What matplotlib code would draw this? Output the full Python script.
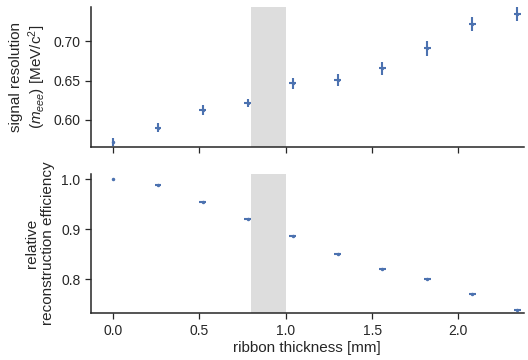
import numpy as np
import matplotlib
matplotlib.use("Agg")
import matplotlib.pyplot as plt

plt.rcParams['font.family'] = ['Liberation Sans', 'DejaVu Sans']
plt.rcParams['mathtext.fontset'] = 'custom'
plt.rcParams['mathtext.rm'] = 'Liberation Sans'
plt.rcParams['mathtext.it'] = 'Liberation Sans:italic'

thickness = [0.0, 0.26, 0.52, 0.78, 1.04, 1.30, 1.56, 1.82, 2.08, 2.34]
thickness_err = [0.0, 0.02, 0.02, 0.02, 0.02, 0.02, 0.02, 0.02, 0.02, 0.02]
resolution = [0.5725, 0.590, 0.6127, 0.622, 0.6465, 0.6506, 0.6654, 0.6907, 0.7224, 0.7342]
resolution_err = [0.005, 0.0057, 0.0063, 0.005, 0.007, 0.0076, 0.0084, 0.0095, 0.0089, 0.0086]
efficiency = [1.000, 0.989, 0.9545, 0.9204, 0.886, 0.850, 0.8204, 0.7994, 0.7693, 0.7373]
efficiency_err = [0.0, 0.001, 0.001, 0.001, 0.001, 0.001, 0.001, 0.001, 0.001, 0.001]
excluded_band = (0.8, 1.0)

blue = '#4C72B0'
dark = '#262626'

fig = plt.figure(figsize=(5.28, 3.6), dpi=100)
ax1 = fig.add_axes([0.1718, 0.5925, 0.9924 - 0.1718, 0.9797 - 0.5925])
ax2 = fig.add_axes([0.1718, 0.1297, 0.9924 - 0.1718, 0.5167 - 0.1297], sharex=ax1)

for ax in (ax1, ax2):
    ax.axvspan(*excluded_band, color='#dddddd', lw=0, zorder=0)
    for s in ('top', 'right'):
        ax.spines[s].set_visible(False)
    for s in ('left', 'bottom'):
        ax.spines[s].set_color(dark)
        ax.spines[s].set_linewidth(1.1)
    ax.tick_params(direction='out', length=4.5, width=0.9, color=dark,
                   labelsize=10, labelcolor=dark, pad=3)

ax1.errorbar(thickness, resolution, yerr=resolution_err, xerr=thickness_err,
             fmt='.', color=blue, ms=3, elinewidth=1.5, capsize=0)
ax2.errorbar(thickness, efficiency, yerr=efficiency_err, xerr=thickness_err,
             fmt='.', color=blue, ms=3, elinewidth=1.5, capsize=0)

ax1.set_xlim(-0.13, 2.38)
ax1.set_ylim(0.566, 0.743)
ax2.set_ylim(0.7313, 1.0106)
ax1.set_yticks([0.60, 0.65, 0.70])
ax1.set_yticklabels(['0.60', '0.65', '0.70'])
ax2.set_yticks([0.8, 0.9, 1.0])
ax2.set_yticklabels(['0.8', '0.9', '1.0'])
ax1.set_xticks([0.0, 0.5, 1.0, 1.5, 2.0])
ax2.set_xticklabels(['0.0', '0.5', '1.0', '1.5', '2.0'])
plt.setp(ax1.get_xticklabels(), visible=False)

ax1.set_ylabel('signal resolution\n($m_{eee}$) [MeV/c$^2$]', fontsize=11, color=dark, labelpad=4)
ax2.set_ylabel('relative\nreconstruction efficiency', fontsize=11, color=dark, labelpad=4)
ax2.set_xlabel('ribbon thickness [mm]', fontsize=11, color=dark, labelpad=2)

fig.savefig('out.png', dpi=100)
